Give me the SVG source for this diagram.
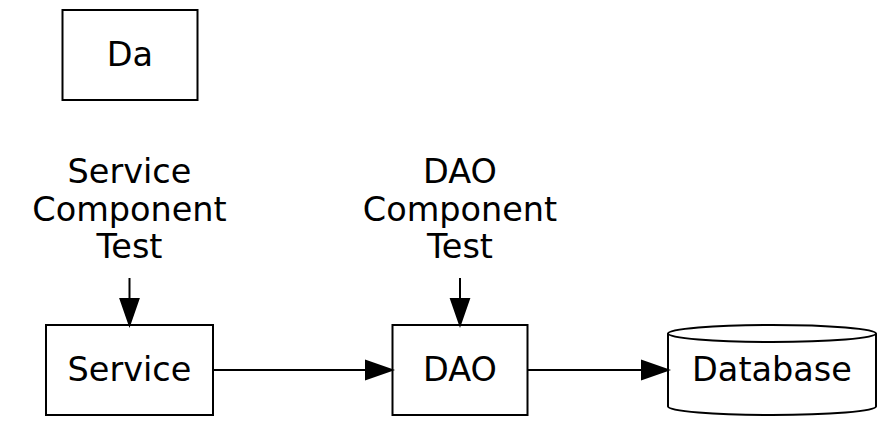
<svg xmlns="http://www.w3.org/2000/svg" width="885" height="425" viewBox="0 0 885 425">
<defs>
<style>
text{font-family:"DejaVu Sans",sans-serif;font-size:33.5px;fill:#000;text-anchor:middle}
.box{fill:#fff;stroke:#000;stroke-width:2}
.edge{fill:none;stroke:#000;stroke-width:2}
.head{fill:#000;stroke:#000;stroke-width:2}
</style>
</defs>
<rect width="885" height="425" fill="#fff"/>
<g id="Da">
<rect class="box" x="62.5" y="10" width="135" height="90"/>
<text x="130" y="66">Da</text>
</g>
<g id="ServiceComponentTest">
<text x="129.5" y="183">Service</text>
<text x="129.5" y="221">Component</text>
<text x="129.5" y="258">Test</text>
</g>
<g id="DAOComponentTest">
<text x="460" y="183">DAO</text>
<text x="460" y="221">Component</text>
<text x="460" y="258">Test</text>
</g>
<g id="Service">
<rect class="box" x="46" y="325" width="167" height="90"/>
<text x="129.5" y="381">Service</text>
</g>
<g id="DAO">
<rect class="box" x="392.5" y="325" width="135" height="90"/>
<text x="460" y="381">DAO</text>
</g>
<g id="Database">
<path class="box" d="M668,333.5 A104,8.5 0 0 1 876,333.5 L876,406.5 A104,8.5 0 0 1 668,406.5 Z"/>
<path class="edge" d="M668,333.5 A104,8.5 0 0 0 876,333.5"/>
<text x="772" y="381">Database</text>
</g>
<g id="connectors">
<path class="edge" d="M129.5,278 L129.5,299"/>
<polygon class="head" points="120.5,299 138.5,299 129.5,325"/>
<path class="edge" d="M460,278 L460,299"/>
<polygon class="head" points="451,299 469,299 460,325"/>
<path class="edge" d="M213,370 L366,370"/>
<polygon class="head" points="366,361 366,379 392,370"/>
<path class="edge" d="M528,370 L642,370"/>
<polygon class="head" points="642,361 642,379 668,370"/>
</g>
</svg>
